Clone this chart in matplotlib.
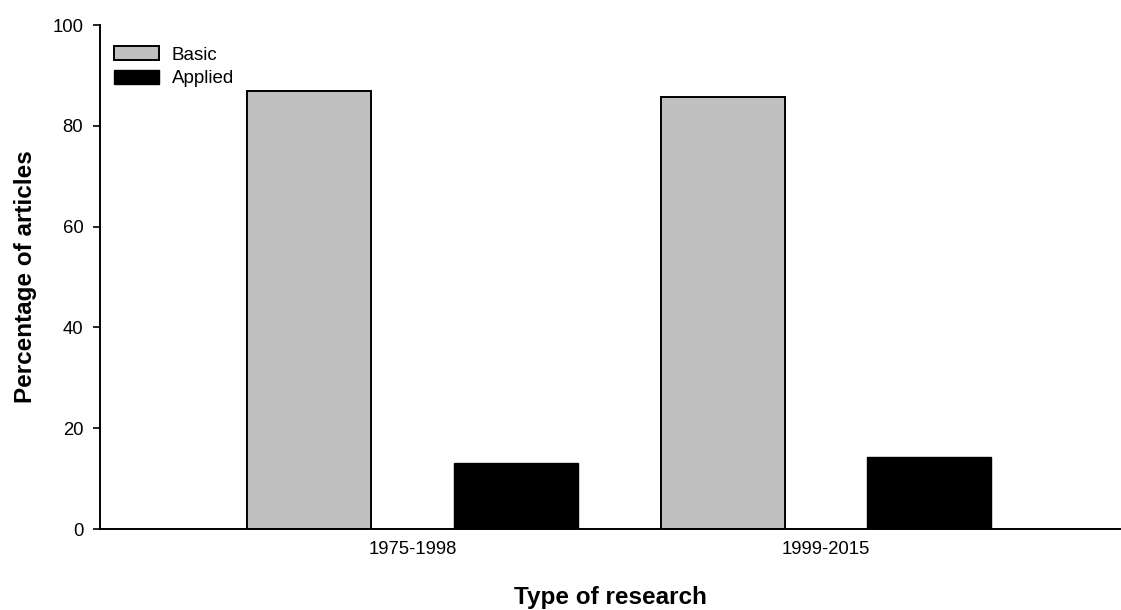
import matplotlib
matplotlib.use('Agg')
import matplotlib.pyplot as plt
import numpy as np

plt.rcParams['font.family'] = ['Liberation Sans', 'DejaVu Sans']

periods = ['1975-1998', '1999-2015']
basic = [87.0, 85.7]
applied = [13.0, 14.3]
yticks = [0, 20, 40, 60, 80, 100]

fig = plt.figure(figsize=(11.21, 6.10), dpi=100)
# axes placed in pixels: left spine x=100, right edge 1120, top y=25, bottom y=529
ax = fig.add_axes([100/1121, (610-529)/610, 1020/1121, 504/610])

x = np.arange(len(periods))
w = 0.30
ax.bar(x - 0.25, basic, w, color='#c0c0c0', edgecolor='black', linewidth=1.4, label='Basic')
ax.bar(x + 0.25, applied, w, color='black', edgecolor='black', linewidth=1.0, label='Applied')

ax.set_xlim(-0.756, 1.711)
ax.set_ylim(0, 100)
ax.set_yticks(yticks)
ax.set_xticks(x)
ax.set_xticklabels(periods)
ax.tick_params(axis='x', length=0, labelsize=13.3, pad=9)
ax.tick_params(axis='y', length=5, width=1.2, labelsize=13.3, pad=7)

for s in ['top', 'right']:
    ax.spines[s].set_visible(False)
ax.spines['left'].set_linewidth(1.4)
ax.spines['bottom'].set_linewidth(1.4)

ax.set_xlabel('Type of research', fontsize=17.5, fontweight='bold', labelpad=20)
ax.set_ylabel('Percentage of articles', fontsize=17.5, fontweight='bold', labelpad=11)

ax.legend(loc='upper left', bbox_to_anchor=(0.005, 0.976), frameon=False,
          fontsize=13.5, handlelength=2.4, handleheight=0.75, borderpad=0,
          handletextpad=0.64, labelspacing=0.33)

fig.savefig('out.png', dpi=100)
